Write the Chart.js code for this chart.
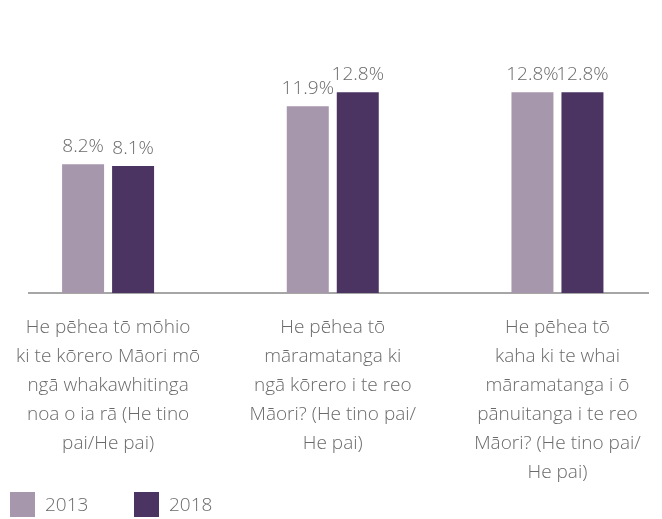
<!DOCTYPE html>
<html lang="mi">
<head>
    <meta charset="UTF-8">
    <title>Te reo Māori 2013 / 2018</title>
    <script src="https://cdn.jsdelivr.net/npm/chart.js"></script>
    <style>
        html, body {
            margin: 0;
            padding: 0;
            background: #fff;
        }
        .wrap {
            width: 662px;
            height: 519px;
        }
    </style>
</head>
<body>
    <div class="wrap">
        <canvas id="chart" width="662" height="519"></canvas>
    </div>

    <script>
        const categories = [
            ["He pēhea tō mōhio", "ki te kōrero Māori mō", "ngā whakawhitinga", "noa o ia rā (He tino", "pai/He pai)"],
            ["He pēhea tō", "māramatanga ki", "ngā kōrero i te reo", "Māori? (He tino pai/", "He pai)"],
            ["He pēhea tō", "kaha ki te whai", "māramatanga i ō", "pānuitanga i te reo", "Māori? (He tino pai/", "He pai)"]
        ];
        const years = ["2013", "2018"];
        const values2013 = [8.2, 11.9, 12.8];
        const values2018 = [8.1, 12.8, 12.8];

        const colours = ['#A797AC', '#4B3461'];
        const textGrey = '#6a6a6a';
        const fontFamily = "'Open Sans', Lato, sans-serif";

        // bars sit on a linear x scale so the groups can be spaced like the original
        const toPoints = arr => arr.map((v, i) => ({ x: i, y: v }));

        const valueLabels = {
            id: 'valueLabels',
            afterDatasetsDraw(chart) {
                const ctx = chart.ctx;
                ctx.save();
                ctx.font = '300 19px ' + fontFamily;
                ctx.fillStyle = textGrey;
                ctx.textAlign = 'center';
                ctx.textBaseline = 'alphabetic';
                chart.data.datasets.forEach((ds, di) => {
                    chart.getDatasetMeta(di).data.forEach((bar, i) => {
                        ctx.fillText(ds.data[i].y.toFixed(1) + '%', bar.x, bar.y - 12);
                    });
                });
                ctx.restore();
            }
        };

        const squareLegend = {
            id: 'squareLegend',
            afterDraw(chart) {
                const ctx = chart.ctx;
                ctx.save();
                ctx.font = '300 19px ' + fontFamily;
                ctx.textBaseline = 'middle';
                ctx.textAlign = 'left';
                chart.data.datasets.forEach((ds, i) => {
                    const x = 10 + i * 124;
                    ctx.fillStyle = ds.backgroundColor;
                    ctx.fillRect(x, 492, 25, 25);
                    ctx.fillStyle = textGrey;
                    ctx.fillText(ds.label, x + 35, 506);
                });
                ctx.restore();
            }
        };

        new Chart(document.getElementById('chart'), {
            type: 'bar',
            data: {
                datasets: [
                    { label: years[0], data: toPoints(values2013), backgroundColor: colours[0] },
                    { label: years[1], data: toPoints(values2018), backgroundColor: colours[1] }
                ]
            },
            options: {
                responsive: false,
                animation: false,
                categoryPercentage: 0.445,
                barPercentage: 0.84,
                layout: { padding: { left: 29, right: 14, top: 42, bottom: 12 } },
                plugins: {
                    legend: { display: false },
                    tooltip: { enabled: false }
                },
                scales: {
                    x: {
                        type: 'linear',
                        offset: false,
                        min: -0.352,
                        max: 2.403,
                        afterBuildTicks: scale => {
                            scale.ticks = categories.map((c, i) => ({ value: i }));
                        },
                        afterFit: scale => {
                            // labels may hang past the axis ends, don't shrink the plot for them
                            scale.paddingLeft = 0;
                            scale.paddingRight = 0;
                        },
                        ticks: {
                            callback: (value, index) => categories[index],
                            autoSkip: false,
                            maxRotation: 0,
                            minRotation: 0,
                            padding: 20,
                            color: textGrey,
                            font: { family: fontFamily, size: 19, weight: '300', lineHeight: '29px' }
                        },
                        grid: { display: false, drawTicks: false },
                        border: { display: true, color: '#A6A6A6', width: 2 }
                    },
                    y: {
                        display: false,
                        min: 0,
                        max: 16
                    }
                }
            },
            plugins: [valueLabels, squareLegend]
        });
    </script>
</body>
</html>
